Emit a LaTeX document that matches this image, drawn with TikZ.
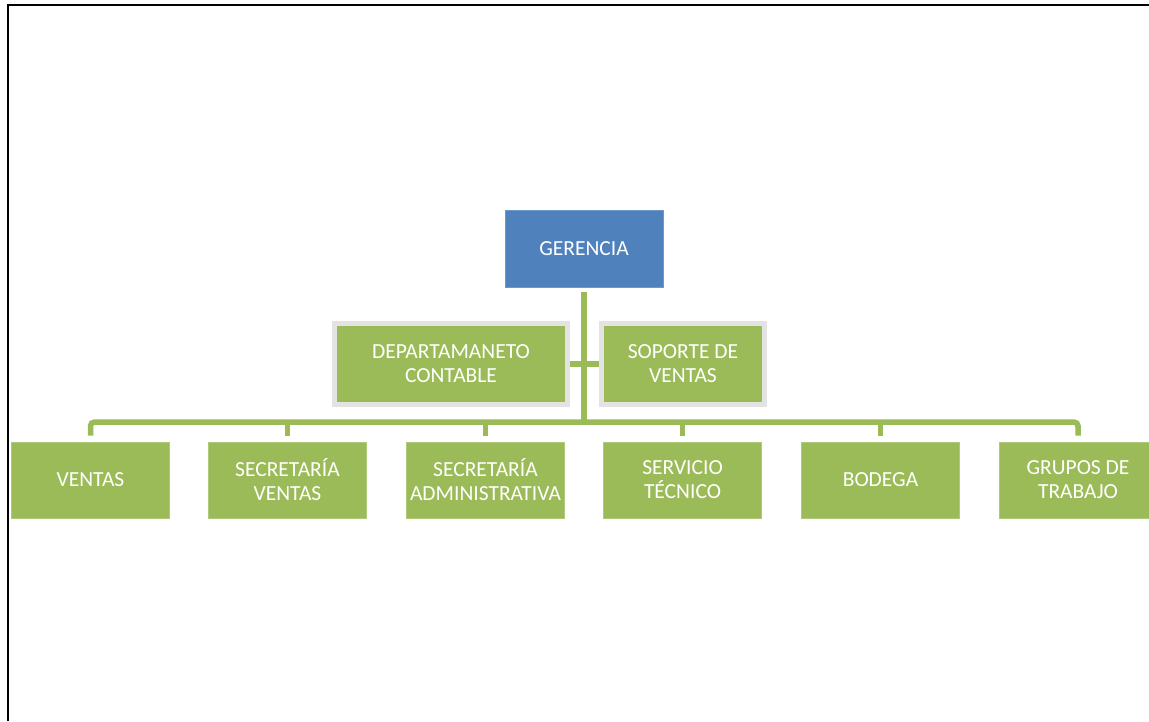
\documentclass[tikz,border=0pt]{standalone}
\usepackage{fontspec}
\setmainfont{Carlito}
\usetikzlibrary{calc}
\definecolor{gblue}{HTML}{4F81BD}
\definecolor{gblueedge}{HTML}{6E98CC}
\definecolor{ggreen}{HTML}{9BBB59}
\definecolor{ggreenedge}{HTML}{AEC97A}
\definecolor{ggray}{HTML}{E3E3E3}
\pgfdeclarelayer{background}
\pgfdeclarelayer{paper}
\pgfsetlayers{paper,background,main}
\tikzset{
  box/.style={rectangle, fill=ggreen, draw=ggreenedge, line width=0.8pt, text=white,
    font=\fontsize{21.5}{24}\selectfont, align=center, inner sep=0pt,
    minimum width=158pt, minimum height=76pt},
  topbox/.style={box, fill=gblue, draw=gblueedge, minimum width=158pt, minimum height=77pt},
  sidebox/.style={box, draw=ggray, line width=5pt, minimum height=81pt},
  conn/.style={draw=ggreen, line width=5.5pt},
  frame/.style={draw=black, line width=2pt}
}
\begin{document}
\begin{tikzpicture}[x=1pt,y=-1pt]
\clip (0,0) rectangle (1149,721);
\begin{pgfonlayer}{paper}
\fill[white] (0,0) rectangle (1149,721);
\end{pgfonlayer}
\draw[frame] (8,721) -- (8,5) -- (1149,5);

\node[topbox] (ger) at (584,248.5) {GERENCIA};
\node[sidebox, minimum width=233pt] (dep) at (451,364) {DEPARTAMANETO\\CONTABLE};
\node[sidebox, minimum width=163pt] (sop) at (683,364) {SOPORTE DE\\VENTAS};

\node[box] (ven) at (90.5,480) {VENTAS};
\node[box] (secv) at (287.5,480) {SECRETARÍA\\VENTAS};
\node[box] (seca) at (485.5,480) {SECRETARÍA\\ADMINISTRATIVA};
\node[box] (serv) at (682.5,480) {SERVICIO\\TÉCNICO};
\node[box] (bod) at (880.5,480) {BODEGA};
\node[box] (gru) at (1078,480) {GRUPOS DE\\TRABAJO};

\coordinate (bus) at (584,422);

\begin{pgfonlayer}{background}
\draw[conn] ($(ger.south)+(0,5)$) -- (bus);
\draw[conn] (dep.east) -- (sop.west);
\draw[conn, rounded corners=4pt] ($(ven.north)+(0,-6)$) |- (bus) -| ($(gru.north)+(0,-6)$);
\draw[conn] ($(secv.north)+(0,-6)$) -- (secv.north |- bus);
\draw[conn] ($(seca.north)+(0,-6)$) -- (seca.north |- bus);
\draw[conn] ($(serv.north)+(0,-6)$) -- (serv.north |- bus);
\draw[conn] ($(bod.north)+(0,-6)$) -- (bod.north |- bus);
\end{pgfonlayer}
\end{tikzpicture}
\end{document}
